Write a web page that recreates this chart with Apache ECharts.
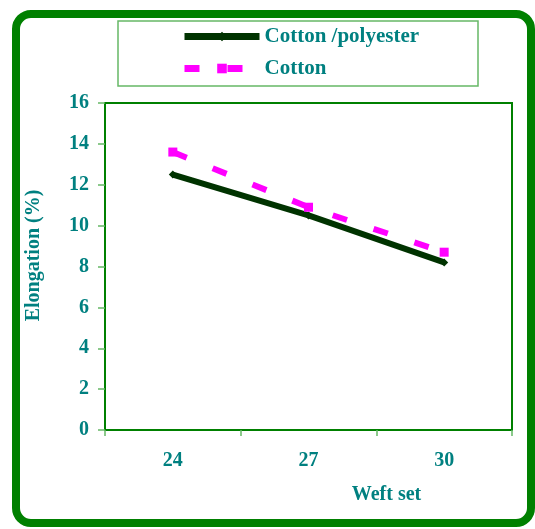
<!DOCTYPE html>
<html>
<head>
<meta charset="utf-8">
<script src="https://cdn.jsdelivr.net/npm/echarts@6/dist/echarts.min.js"></script>
<style>html,body{margin:0;padding:0;background:#fff;}#c{width:535px;height:529px;}</style>
</head>
<body>
<div id="c"></div>
<script>
const categories = ['24', '27', '30'];
const cottonPolyester = [12.5, 10.5, 8.2];
const cotton = [13.6, 10.9, 8.7];
const yTicks = { min: 0, max: 16, interval: 2 };

const teal = '#008080';
const font = 'Liberation Serif';
const chart = echarts.init(document.getElementById('c'));
chart.setOption({
  animation: false,
  backgroundColor: '#fff',
  textStyle: { fontFamily: font },
  graphic: [
    { type: 'rect', shape: { x: 16, y: 14, width: 515, height: 509, r: 15 }, style: { fill: 'none', stroke: '#008000', lineWidth: 8 }, z: -1 },
    { type: 'rect', shape: { x: 118, y: 21, width: 360, height: 65 }, style: { fill: 'none', stroke: '#66b866', lineWidth: 1.5 }, z: 0 }
  ],
  legend: {
    orient: 'vertical',
    left: 181,
    top: 26,
    padding: 0,
    itemWidth: 75,
    itemHeight: 12,
    itemGap: 11,
    textStyle: { fontFamily: font, fontWeight: 'bold', fontSize: 21, color: teal, padding: [0, 0, 0, 0] },
    data: [
      { name: 'Cotton /polyester', lineStyle: { width: 7 } },
      { name: 'Cotton', lineStyle: { width: 7, type: [15, 28] } }
    ]
  },
  grid: { left: 105, top: 103, width: 407, height: 327, show: true, borderColor: '#008000', borderWidth: 2, backgroundColor: 'transparent' },
  xAxis: {
    type: 'category',
    data: categories,
    boundaryGap: true,
    name: 'Weft set',
    nameLocation: 'middle',
    nameGap: 55,
    nameTextStyle: { fontFamily: font, fontWeight: 'bold', fontSize: 20, color: teal, padding: [0, 0, 0, 156] },
    axisLine: { lineStyle: { color: '#008000', width: 2 } },
    axisTick: { show: true, length: 6, inside: false, lineStyle: { color: '#66b866', width: 1.5 } },
    axisLabel: { fontFamily: font, fontWeight: 'bold', fontSize: 20, color: teal, margin: 21 },
    splitLine: { show: false }
  },
  yAxis: {
    type: 'value',
    min: yTicks.min,
    max: yTicks.max,
    interval: yTicks.interval,
    name: 'Elongation (%)',
    nameLocation: 'middle',
    nameGap: 61,
    nameRotate: 90,
    nameTextStyle: { fontFamily: font, fontWeight: 'bold', fontSize: 20, color: teal, padding: [0, 0, 0, 22] },
    axisLine: { show: true, lineStyle: { color: '#008000', width: 2 } },
    axisTick: { show: true, length: 7, inside: false, lineStyle: { color: '#66b866', width: 1.5 } },
    axisLabel: { fontFamily: font, fontWeight: 'bold', fontSize: 20, color: teal, margin: 16 },
    splitLine: { show: false }
  },
  series: [
    {
      name: 'Cotton /polyester',
      type: 'line',
      data: cottonPolyester,
      symbol: 'diamond',
      symbolSize: 8,
      itemStyle: { color: '#003300' },
      lineStyle: { color: '#003300', width: 6 },
      z: 2
    },
    {
      name: 'Cotton',
      type: 'line',
      data: cotton,
      symbol: 'rect',
      symbolSize: 9,
      itemStyle: { color: '#ff00ff' },
      lineStyle: { color: '#ff00ff', width: 6, type: [15, 28] },
      z: 3
    }
  ]
});
</script>
</body>
</html>
